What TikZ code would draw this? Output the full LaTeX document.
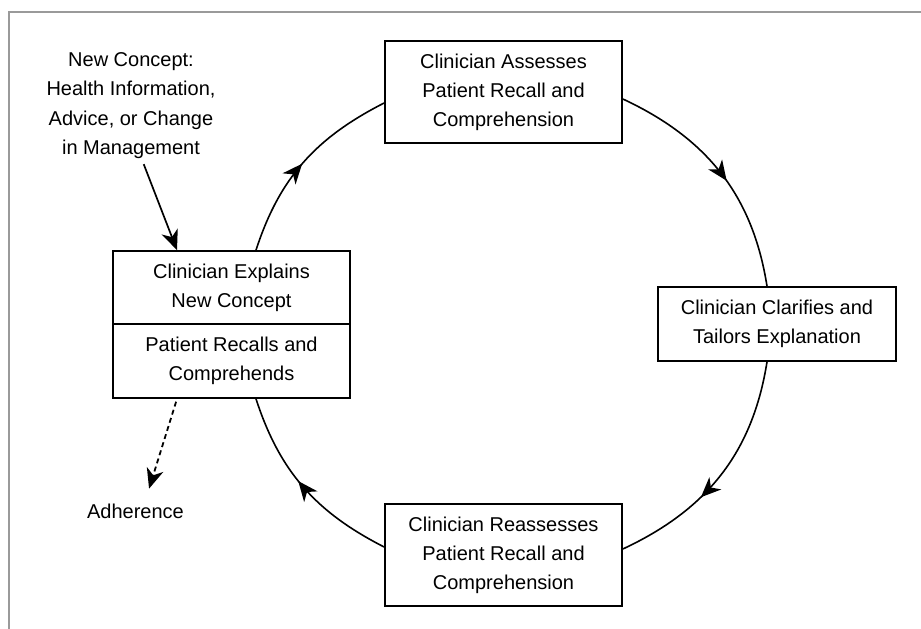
\documentclass[tikz,border=0pt]{standalone}
\usepackage{fontspec}
\setmainfont{Liberation Sans}
\usetikzlibrary{arrows.meta,decorations.markings}
\definecolor{framegray}{HTML}{9a9a9a}

\begin{document}
\begin{tikzpicture}[x=1pt,y=1pt,
  box/.style={draw,line width=1.7pt,minimum width=237pt,align=center,
    font=\fontsize{20}{29}\selectfont},
  lbl/.style={align=center,font=\fontsize{20}{29.5}\selectfont},
  cyc/.style={line width=1.6pt,postaction={decorate},
    decoration={markings,mark=at position #1 with {\arrow{Stealth[length=20pt,width=17pt,inset=6pt]}}}},
  cyc/.default=0.5,
  >={Stealth[length=20pt,width=17pt,inset=6pt]}]
  \useasboundingbox (0,0) rectangle (921,629);
  % frame (top and left only)
  \draw[framegray,line width=2pt] (921,617) -- (9,617) -- (9,0);

  % the four steps
  \node[box,minimum height=102pt] (assess) at (503.5,537) {Clinician Assesses\\Patient Recall and\\Comprehension};
  \node[box,minimum height=74pt,minimum width=238pt] (clarify) at (777,305) {Clinician Clarifies and\\Tailors Explanation};
  \node[box,minimum height=102pt] (reassess) at (503.5,74) {Clinician Reassesses\\Patient Recall and\\Comprehension};
  \node[box,minimum height=73pt] (explain) at (231.5,341.5) {Clinician Explains\\New Concept};
  \node[box,minimum height=74pt] (recall) at (231.5,268) {Patient Recalls and\\Comprehends};

  % labels
  \node[lbl] (newc) at (131,523.5) {New Concept:\\Health Information,\\Advice, or Change\\in Management};
  \node[lbl] (adh) at (135.5,118) {Adherence};

  % cycle
  \draw[cyc=0.49] ([xshift=24.5pt]explain.north) to[out=72,in=207] ([yshift=-11pt]assess.west);
  \draw[cyc=0.54] ([yshift=-7pt]assess.east) to[out=-25,in=99] ([xshift=-10pt]clarify.north);
  \draw[cyc=0.62] ([xshift=-10pt]clarify.south) to[out=-99,in=25] ([yshift=6pt]reassess.east);
  \draw[cyc=0.54] ([yshift=8pt]reassess.west) to[out=153,in=-72] ([xshift=24.5pt]recall.south);

  % in and out
  \draw[->,line width=1.7pt,shorten <=2pt] ([xshift=12pt]newc.south) -- ([xshift=-54.5pt]explain.north);
  \draw[->,line width=1.8pt,dash pattern=on 5pt off 3.5pt,shorten <=3pt,shorten >=12pt] ([xshift=-54.5pt]recall.south) -- ([xshift=10pt]adh.north);
\end{tikzpicture}
\end{document}
